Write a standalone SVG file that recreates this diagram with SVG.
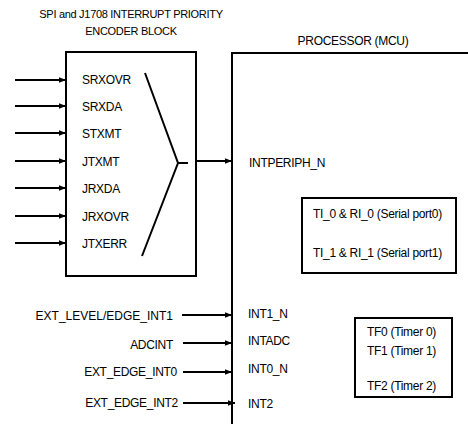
<svg xmlns="http://www.w3.org/2000/svg" width="468" height="424" viewBox="0 0 468 424">
<defs>
<marker id="ah" viewBox="0 0 10 10" refX="10" refY="5" markerWidth="3.5" markerHeight="3.5" orient="auto" markerUnits="strokeWidth">
<path d="M0,1 L10,5 L0,9 z" fill="#000"/>
</marker>
<style>
text{font-family:"Liberation Sans",Arial,sans-serif;font-size:12px;fill:#000;letter-spacing:-0.3px}
.t{font-size:11px}
.w{letter-spacing:0}
.box{fill:none;stroke:#000;stroke-width:2}
.ln{fill:none;stroke:#000;stroke-width:2}
.ar{fill:none;stroke:#000;stroke-width:2;marker-end:url(#ah)}
.r{text-anchor:end}
.m{text-anchor:middle}
</style>
</defs>
<rect width="468" height="424" fill="#fff"/>
<g id="encoder">
<text class="t m" x="131" y="18">SPI and J1708 INTERRUPT PRIORITY</text>
<text class="t m" x="131" y="35">ENCODER BLOCK</text>
<rect class="box" x="66" y="52" width="130" height="224"/>
<text x="82" y="84">SRXOVR</text>
<text x="82" y="111">SRXDA</text>
<text x="82" y="138">STXMT</text>
<text x="82" y="166">JTXMT</text>
<text x="82" y="193">JRXDA</text>
<text x="82" y="221">JRXOVR</text>
<text x="82" y="248">JTXERR</text>
<path class="ln" d="M145,73 L178,163 L142,256 M178,163 L188,163"/>
</g>
<g id="processor">
<text class="m" x="353" y="45">PROCESSOR (MCU)</text>
<path class="box" d="M468,53 L232,53 L232,424"/>
<text x="249" y="167">INTPERIPH_N</text>
<text x="248" y="318">INT1_N</text>
<text x="248" y="345">INTADC</text>
<text x="248" y="373">INT0_N</text>
<text x="248" y="408">INT2</text>
</g>
<g id="serial">
<rect class="box" x="302" y="198" width="154" height="75"/>
<text x="313" y="218">TI_0 &amp; RI_0 (Serial port0)</text>
<text x="313" y="257">TI_1 &amp; RI_1 (Serial port1)</text>
</g>
<g id="timers">
<rect class="box" x="355" y="318" width="97" height="79"/>
<text x="367" y="336">TF0 (Timer 0)</text>
<text x="367" y="355">TF1 (Timer 1)</text>
<text x="367" y="390">TF2 (Timer 2)</text>
</g>
<g id="inputs">
<text class="r w" x="173" y="320">EXT_LEVEL/EDGE_INT1</text>
<text class="r" x="173" y="349">ADCINT</text>
<text class="r" x="177" y="376">EXT_EDGE_INT0</text>
<text class="r" x="178" y="407">EXT_EDGE_INT2</text>
</g>
<g id="connectors">
<path class="ar" d="M15,80 L66,80"/>
<path class="ar" d="M15,106 L66,106"/>
<path class="ar" d="M15,133 L66,133"/>
<path class="ar" d="M15,161 L66,161"/>
<path class="ar" d="M15,188 L66,188"/>
<path class="ar" d="M15,216 L66,216"/>
<path class="ar" d="M15,243 L66,243"/>
<path class="ar" d="M197,161 L232,161"/>
<path class="ar" d="M182,315 L232,315"/>
<path class="ar" d="M183,343 L232,343"/>
<path class="ar" d="M183,372 L232,372"/>
<path class="ar" d="M183,403 L235,403"/>
</g>
</svg>
